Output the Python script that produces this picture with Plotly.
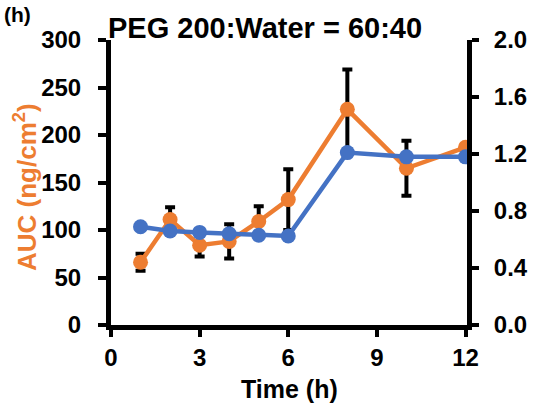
import plotly.graph_objects as go

time_h = [1, 2, 3, 4, 5, 6, 8, 10, 12]
auc = [66, 111, 84, 88, 109, 132, 227, 165, 187]
auc_err = [9, 13, 12, 18, 16, 32, 42, 29, 0]
ratio = [0.69, 0.66, 0.65, 0.64, 0.63, 0.625, 1.21, 1.18, 1.18]

title_text = "PEG 200:Water = 60:40"
panel_label = "(h)"
x_title = "Time (h)"
y_title = "AUC (ng/cm<sup>2</sup>)"

ORANGE = "#ED7D31"
BLUE = "#4472C4"
FONT = "Liberation Sans"

fig = go.Figure()
fig.add_trace(go.Scatter(
    x=time_h, y=auc, mode="lines+markers",
    line=dict(color=ORANGE, width=4.5),
    marker=dict(color=ORANGE, size=15),
    error_y=dict(type="data", array=auc_err, visible=True, color="black", thickness=4, width=5),
    yaxis="y", showlegend=False,
))
fig.add_trace(go.Scatter(
    x=time_h, y=ratio, mode="lines+markers",
    line=dict(color=BLUE, width=4.5),
    marker=dict(color=BLUE, size=15),
    yaxis="y2", showlegend=False,
))

tickfont = dict(family=FONT, size=24, color="black", weight="bold")

fig.update_layout(
    width=551, height=404,
    margin=dict(l=111, r=84, t=40, b=79),
    paper_bgcolor="white", plot_bgcolor="white",
    xaxis=dict(range=[0, 12.05], tickvals=[0, 3, 6, 9, 12], showgrid=False, zeroline=False,
               showline=True, linecolor="black", linewidth=5,
               ticks="outside", ticklen=7, tickwidth=4, tickcolor="black",
               tickfont=tickfont, ticklabelstandoff=0),
    yaxis=dict(range=[0, 300], dtick=50, showgrid=False, zeroline=False,
               showline=True, linecolor="black", linewidth=5,
               ticks="outside", ticklen=8, tickwidth=4, tickcolor="black",
               tickfont=tickfont, ticklabelstandoff=12),
    yaxis2=dict(range=[0, 2], dtick=0.4, tickformat=".1f", overlaying="y", side="right",
                showgrid=False, zeroline=False,
                showline=True, linecolor="black", linewidth=5,
                ticks="outside", ticklen=7, tickwidth=4, tickcolor="black",
                tickfont=tickfont, ticklabelstandoff=10),
    annotations=[
        dict(text=title_text, x=(265 - 111) / 356, y=(325 - 28) / 285, xref="paper", yref="paper",
             xanchor="center", yanchor="middle", showarrow=False,
             font=dict(family=FONT, size=29, color="black", weight="bold")),
        dict(text=panel_label, x=(2 - 111) / 356, y=(325 - 15) / 285, xref="paper", yref="paper",
             xanchor="left", yanchor="middle", showarrow=False,
             font=dict(family=FONT, size=21, color="black", weight="bold")),
        dict(text=x_title, x=(289 - 111) / 356, y=(325 - 389) / 285, xref="paper", yref="paper",
             xanchor="center", yanchor="middle", showarrow=False,
             font=dict(family=FONT, size=25, color="black", weight="bold")),
        dict(text=y_title, x=(25 - 111) / 356, y=(325 - 187) / 285, xref="paper", yref="paper",
             xanchor="center", yanchor="middle", showarrow=False, textangle=-90,
             font=dict(family=FONT, size=26, color=ORANGE, weight="bold")),
    ],
)

fig.write_html("out.html")
